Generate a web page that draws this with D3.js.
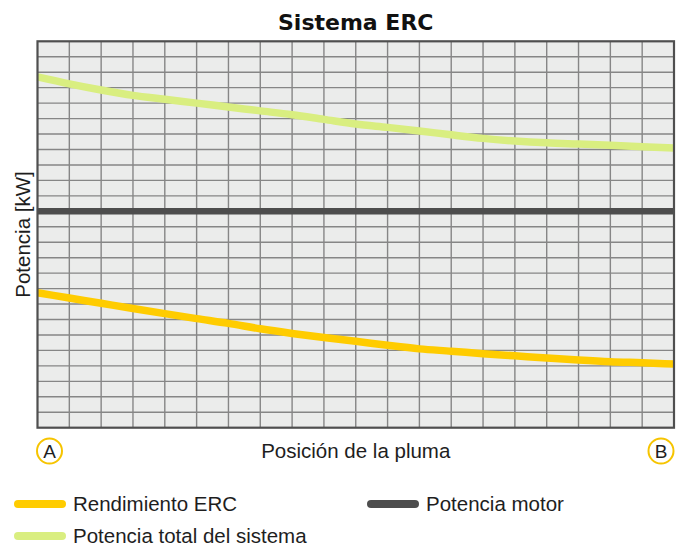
<!DOCTYPE html>
<meta charset="utf-8">
<style>
  body { margin: 0; background: #fff; }
  text { font-family: "Liberation Sans", Arial, sans-serif; fill: #1e1e1e; }
  .title { font-family: "DejaVu Sans", sans-serif; font-weight: bold; font-size: 22px; fill: #111; }
  .grid line { stroke: #868686; stroke-width: 1.4; shape-rendering: geometricPrecision; }
</style>
<head>
  <title>Sistema ERC</title>
  <script src="https://d3js.org/d3.v7.min.js"></script>
</head>
<body>
<div class="chart"></div>
<script>

  // posición de la pluma: 20 columnas de la cuadrícula (A -> B)
  var positions = d3.range(0, 21);

  // valores, en unidades de fila de la cuadrícula (0 = abajo, 25 = arriba)
  var potenciaTotal = [22.7, 22.25, 21.85, 21.5, 21.25, 21.0, 20.75, 20.5, 20.25, 19.95, 19.65,
                       19.43, 19.2, 18.95, 18.72, 18.55, 18.43, 18.35, 18.27, 18.18, 18.1];
  var rendimientoERC = [8.73, 8.39, 8.05, 7.71, 7.38, 7.06, 6.75, 6.4, 6.1, 5.83, 5.59,
                        5.33, 5.1, 4.95, 4.79, 4.65, 4.51, 4.38, 4.27, 4.2, 4.12];
  var potenciaMotor = [14, 14, 14, 14, 14, 14, 14, 14, 14, 14, 14,
                       14, 14, 14, 14, 14, 14, 14, 14, 14, 14];

  var xCols = 20, yRows = 25;
  var endLabels = ["A", "B"];

  var legendItems = [
    {name: "Rendimiento ERC", color: "#ffcc00", col: 0, row: 0},
    {name: "Potencia motor", color: "#4d4d4d", col: 1, row: 0},
    {name: "Potencia total del sistema", color: "#d9ee80", col: 0, row: 1}
  ];

  var W = 682, H = 546;
  var margin = {top: 41.3, right: 8, bottom: 118.3, left: 37.5};

  var svg = d3.select(".chart").append("svg")
      .attr("width", W)
      .attr("height", H);

  var x = d3.scaleLinear().domain([0, xCols]).range([margin.left, W - margin.right]);
  var y = d3.scaleLinear().domain([0, yRows]).range([H - margin.bottom, margin.top]);

  // fondo
  svg.append("rect")
      .attr("x", x(0)).attr("y", y(yRows))
      .attr("width", x(xCols) - x(0))
      .attr("height", y(0) - y(yRows))
      .attr("fill", "#ebeceb");

  // cuadrícula
  var grid = svg.append("g").attr("class", "grid");
  grid.selectAll(".v")
      .data(d3.range(1, xCols))
      .enter().append("line")
      .attr("x1", function(d) { return x(d); })
      .attr("x2", function(d) { return x(d); })
      .attr("y1", y(0)).attr("y2", y(yRows));
  grid.selectAll(".h")
      .data(d3.range(1, yRows))
      .enter().append("line")
      .attr("y1", function(d) { return y(d); })
      .attr("y2", function(d) { return y(d); })
      .attr("x1", x(0)).attr("x2", x(xCols));

  var line = d3.line()
      .x(function(d, i) { return x(positions[i]); })
      .y(function(d) { return y(d); })
      .curve(d3.curveMonotoneX);

  svg.append("path")
      .datum(potenciaTotal)
      .attr("d", line)
      .attr("fill", "none")
      .attr("stroke", "#d9ee80")
      .attr("stroke-width", 7.5);

  svg.append("path")
      .datum(potenciaMotor)
      .attr("d", line)
      .attr("fill", "none")
      .attr("stroke", "#4d4d4d")
      .attr("stroke-width", 6.5);

  svg.append("path")
      .datum(rendimientoERC)
      .attr("d", line)
      .attr("fill", "none")
      .attr("stroke", "#ffcc00")
      .attr("stroke-width", 7.5);

  // marco
  svg.append("rect")
      .attr("x", x(0)).attr("y", y(yRows))
      .attr("width", x(xCols) - x(0))
      .attr("height", y(0) - y(yRows))
      .attr("fill", "none")
      .attr("stroke", "#4f4f4f")
      .attr("stroke-width", 2.2);

  // título
  svg.append("text")
      .attr("class", "title")
      .attr("x", (x(0) + x(xCols)) / 2)
      .attr("y", 30)
      .attr("text-anchor", "middle")
      .text("Sistema ERC");

  // ejes
  svg.append("text")
      .attr("text-anchor", "middle")
      .attr("transform", "translate(30," + ((y(0) + y(yRows)) / 2) + ") rotate(-90)")
      .style("font-size", "20.5px")
      .text("Potencia [kW]");

  svg.append("text")
      .attr("x", (x(0) + x(xCols)) / 2)
      .attr("y", 458)
      .attr("text-anchor", "middle")
      .style("font-size", "20.5px")
      .text("Posición de la pluma");

  // A / B
  var ends = svg.selectAll(".end")
      .data(endLabels)
      .enter().append("g")
      .attr("transform", function(d, i) {
        return "translate(" + (i == 0 ? x(0) + 12 : x(xCols) - 13) + ",451)";
      });
  ends.append("circle")
      .attr("r", 12.5)
      .attr("fill", "#fff")
      .attr("stroke", "#f6c400")
      .attr("stroke-width", 2);
  ends.append("text")
      .attr("text-anchor", "middle")
      .attr("dy", "0.36em")
      .style("font-size", "19px")
      .text(function(d) { return d; });

  // leyenda
  var legend = svg.selectAll(".legend")
      .data(legendItems)
      .enter().append("g")
      .attr("transform", function(d) {
        return "translate(" + (14 + d.col * 353) + "," + (504 + d.row * 32) + ")";
      });
  legend.append("line")
      .attr("x1", 4).attr("x2", 48)
      .attr("stroke", function(d) { return d.color; })
      .attr("stroke-width", 8)
      .attr("stroke-linecap", "round");
  legend.append("text")
      .attr("x", 59)
      .attr("dy", "0.35em")
      .style("font-size", "20.5px")
      .text(function(d) { return d.name; });

</script>
</body>
